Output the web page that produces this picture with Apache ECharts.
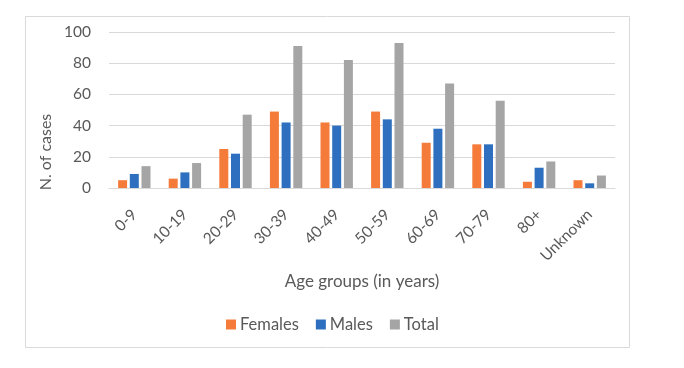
<!DOCTYPE html>
<html>
<head>
<meta charset="utf-8">
<script src="https://cdn.jsdelivr.net/npm/echarts@6/dist/echarts.min.js"></script>
<style>html,body{margin:0;padding:0;background:#fff;}#c{width:684px;height:368px;}</style>
</head>
<body>
<div id="c"></div>
<script>
const categories = ['0-9','10-19','20-29','30-39','40-49','50-59','60-69','70-79','80+','Unknown'];
const females = [5, 6, 25, 49, 42, 49, 29, 28, 4, 5];
const males   = [9, 10, 22, 42, 40, 44, 38, 28, 13, 3];
const total   = [14, 16, 47, 91, 82, 93, 67, 56, 17, 8];
const seriesNames = ['Females', 'Males', 'Total'];

const FONT = 'Lato';
const TXT = '#595959';
const chart = echarts.init(document.getElementById('c'), null, {renderer: 'canvas'});
const mk = (name, data, color) => ({
  name, type: 'bar', data, barWidth: 9, barGap: '30%',
  itemStyle: {color}
});
chart.setOption({
  animation: false,
  textStyle: {fontFamily: FONT},
  grid: {left: 109, right: 69, top: 32, bottom: 180},
  legend: {
    data: seriesNames, left: 221, top: 311, itemWidth: 10, itemHeight: 10, itemGap: 17,
    icon: 'rect',
    textStyle: {fontFamily: FONT, fontSize: 16.5, color: TXT, padding: [0,0,0,-1]}
  },
  xAxis: {
    type: 'category', data: categories,
    axisLine: {lineStyle: {color: '#d9d9d9'}},
    axisTick: {show: false},
    axisLabel: {rotate: 45, fontSize: 15.5, color: TXT, fontFamily: FONT, margin: 24, interval: 0},
    name: 'Age groups (in years)', nameLocation: 'middle', nameGap: 85,
    nameTextStyle: {fontSize: 17, color: TXT, fontFamily: FONT}
  },
  yAxis: {
    type: 'value', min: 0, max: 100, interval: 20,
    axisLine: {show: false}, axisTick: {show: false},
    splitLine: {lineStyle: {color: '#d9d9d9'}},
    axisLabel: {fontSize: 15.5, color: TXT, fontFamily: FONT, margin: 18}
  },
  graphic: [
    {type: 'rect', left: 23, top: 14, shape: {width: 604, height: 331},
     style: {fill: 'none', stroke: '#d9d9d9', lineWidth: 1}, silent: true},
    {type: 'text', x: 46, y: 152, rotation: Math.PI / 2, silent: true,
     style: {text: 'N. of cases', font: '16px Lato', fill: TXT,
             textAlign: 'center', textVerticalAlign: 'middle'}}
  ],
  series: [
    mk(seriesNames[0], females, '#F47B3A'),
    mk(seriesNames[1], males, '#2E70BF'),
    mk(seriesNames[2], total, '#A5A5A5')
  ]
});
</script>
</body>
</html>
